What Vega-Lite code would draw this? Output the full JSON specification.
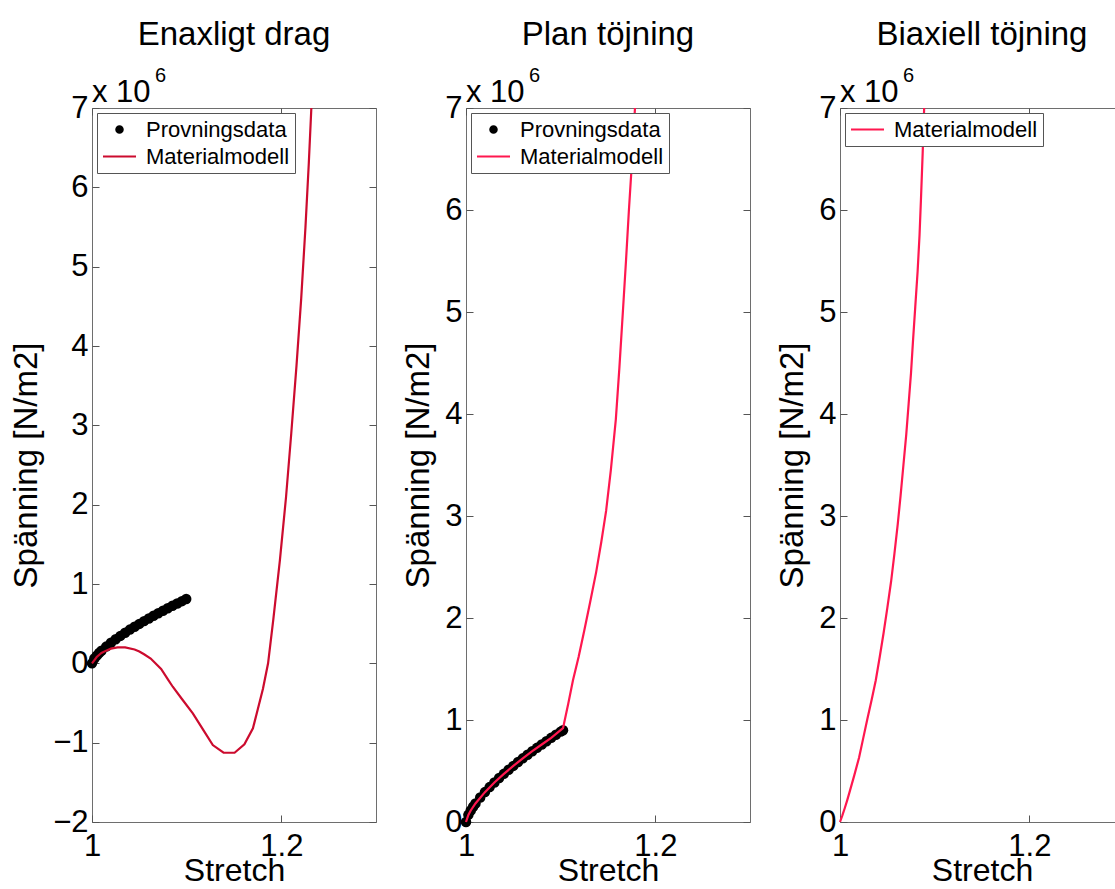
{
  "$schema": "https://vega.github.io/schema/vega-lite/v6.json",
  "padding": {"left": 10, "top": 18, "right": 0, "bottom": 0},
  "background": "white",
  "config": {
    "font": "Liberation Sans",
    "view": {"stroke": "#6e6e6e", "strokeWidth": 1},
    "title": {"fontSize": 33, "fontWeight": "normal", "color": "black", "anchor": "middle", "baseline": "bottom", "offset": 14},
    "axis": {"labelFont": "Liberation Sans", "titleFont": "Liberation Sans", "labelFontSize": 31, "titleFontSize": 33, "titleFontWeight": "normal", "labelColor": "black", "titleColor": "black", "tickColor": "#555", "tickSize": -7, "domain": false, "grid": false, "labelFlush": false, "labelOverlap": false},
    "axisBottom": {"titleFontSize": 32},
    "legend": {"labelFont": "Liberation Sans", "labelFontSize": 22, "labelColor": "black", "orient": "top-left", "offset": 5, "padding": 5, "strokeColor": "#555", "fillColor": "white", "symbolSize": 400, "symbolOffset": 6, "labelOffset": 15, "rowPadding": 4, "symbolStrokeWidth": 2.2}
  },
  "datasets": {
    "p1_data": [
      {"stretch": 1.0, "spanning": 0.0, "serie": "Provningsdata"},
      {"stretch": 1.0025, "spanning": 0.06, "serie": "Provningsdata"},
      {"stretch": 1.005, "spanning": 0.097, "serie": "Provningsdata"},
      {"stretch": 1.0075, "spanning": 0.13, "serie": "Provningsdata"},
      {"stretch": 1.01, "spanning": 0.159, "serie": "Provningsdata"},
      {"stretch": 1.015, "spanning": 0.211, "serie": "Provningsdata"},
      {"stretch": 1.02, "spanning": 0.259, "serie": "Provningsdata"},
      {"stretch": 1.025, "spanning": 0.304, "serie": "Provningsdata"},
      {"stretch": 1.03, "spanning": 0.346, "serie": "Provningsdata"},
      {"stretch": 1.035, "spanning": 0.386, "serie": "Provningsdata"},
      {"stretch": 1.04, "spanning": 0.425, "serie": "Provningsdata"},
      {"stretch": 1.045, "spanning": 0.461, "serie": "Provningsdata"},
      {"stretch": 1.05, "spanning": 0.497, "serie": "Provningsdata"},
      {"stretch": 1.055, "spanning": 0.532, "serie": "Provningsdata"},
      {"stretch": 1.06, "spanning": 0.566, "serie": "Provningsdata"},
      {"stretch": 1.065, "spanning": 0.599, "serie": "Provningsdata"},
      {"stretch": 1.07, "spanning": 0.631, "serie": "Provningsdata"},
      {"stretch": 1.075, "spanning": 0.663, "serie": "Provningsdata"},
      {"stretch": 1.08, "spanning": 0.694, "serie": "Provningsdata"},
      {"stretch": 1.085, "spanning": 0.725, "serie": "Provningsdata"},
      {"stretch": 1.09, "spanning": 0.754, "serie": "Provningsdata"},
      {"stretch": 1.095, "spanning": 0.784, "serie": "Provningsdata"},
      {"stretch": 1.0995, "spanning": 0.81, "serie": "Provningsdata"}
    ],
    "p1_model": [
      {"stretch": 1.0, "spanning": 0.0, "serie": "Materialmodell"},
      {"stretch": 1.005, "spanning": 0.08, "serie": "Materialmodell"},
      {"stretch": 1.01, "spanning": 0.13, "serie": "Materialmodell"},
      {"stretch": 1.015, "spanning": 0.16, "serie": "Materialmodell"},
      {"stretch": 1.02, "spanning": 0.185, "serie": "Materialmodell"},
      {"stretch": 1.027, "spanning": 0.2, "serie": "Materialmodell"},
      {"stretch": 1.035, "spanning": 0.2, "serie": "Materialmodell"},
      {"stretch": 1.045, "spanning": 0.175, "serie": "Materialmodell"},
      {"stretch": 1.05, "spanning": 0.15, "serie": "Materialmodell"},
      {"stretch": 1.055, "spanning": 0.115, "serie": "Materialmodell"},
      {"stretch": 1.062, "spanning": 0.06, "serie": "Materialmodell"},
      {"stretch": 1.073, "spanning": -0.07, "serie": "Materialmodell"},
      {"stretch": 1.08, "spanning": -0.2, "serie": "Materialmodell"},
      {"stretch": 1.0853, "spanning": -0.295, "serie": "Materialmodell"},
      {"stretch": 1.095, "spanning": -0.45, "serie": "Materialmodell"},
      {"stretch": 1.1065, "spanning": -0.63, "serie": "Materialmodell"},
      {"stretch": 1.117, "spanning": -0.83, "serie": "Materialmodell"},
      {"stretch": 1.1276, "spanning": -1.03, "serie": "Materialmodell"},
      {"stretch": 1.139, "spanning": -1.127, "serie": "Materialmodell"},
      {"stretch": 1.1506, "spanning": -1.127, "serie": "Materialmodell"},
      {"stretch": 1.161, "spanning": -1.02, "serie": "Materialmodell"},
      {"stretch": 1.17, "spanning": -0.82, "serie": "Materialmodell"},
      {"stretch": 1.1806, "spanning": -0.32, "serie": "Materialmodell"},
      {"stretch": 1.186, "spanning": 0.0, "serie": "Materialmodell"},
      {"stretch": 1.1915, "spanning": 0.55, "serie": "Materialmodell"},
      {"stretch": 1.1985, "spanning": 1.3, "serie": "Materialmodell"},
      {"stretch": 1.205, "spanning": 2.1, "serie": "Materialmodell"},
      {"stretch": 1.2105, "spanning": 2.9, "serie": "Materialmodell"},
      {"stretch": 1.216, "spanning": 3.75, "serie": "Materialmodell"},
      {"stretch": 1.221, "spanning": 4.6, "serie": "Materialmodell"},
      {"stretch": 1.2255, "spanning": 5.5, "serie": "Materialmodell"},
      {"stretch": 1.229, "spanning": 6.3, "serie": "Materialmodell"},
      {"stretch": 1.2317, "spanning": 7.0, "serie": "Materialmodell"}
    ],
    "p2_data": [
      {"stretch": 1.0, "spanning": 0.0, "serie": "Provningsdata"},
      {"stretch": 1.0025, "spanning": 0.07, "serie": "Provningsdata"},
      {"stretch": 1.005, "spanning": 0.113, "serie": "Provningsdata"},
      {"stretch": 1.0075, "spanning": 0.15, "serie": "Provningsdata"},
      {"stretch": 1.01, "spanning": 0.182, "serie": "Provningsdata"},
      {"stretch": 1.015, "spanning": 0.241, "serie": "Provningsdata"},
      {"stretch": 1.02, "spanning": 0.293, "serie": "Provningsdata"},
      {"stretch": 1.025, "spanning": 0.342, "serie": "Provningsdata"},
      {"stretch": 1.03, "spanning": 0.388, "serie": "Provningsdata"},
      {"stretch": 1.035, "spanning": 0.431, "serie": "Provningsdata"},
      {"stretch": 1.04, "spanning": 0.472, "serie": "Provningsdata"},
      {"stretch": 1.045, "spanning": 0.512, "serie": "Provningsdata"},
      {"stretch": 1.05, "spanning": 0.55, "serie": "Provningsdata"},
      {"stretch": 1.055, "spanning": 0.588, "serie": "Provningsdata"},
      {"stretch": 1.06, "spanning": 0.624, "serie": "Provningsdata"},
      {"stretch": 1.065, "spanning": 0.659, "serie": "Provningsdata"},
      {"stretch": 1.07, "spanning": 0.694, "serie": "Provningsdata"},
      {"stretch": 1.075, "spanning": 0.727, "serie": "Provningsdata"},
      {"stretch": 1.08, "spanning": 0.76, "serie": "Provningsdata"},
      {"stretch": 1.085, "spanning": 0.792, "serie": "Provningsdata"},
      {"stretch": 1.09, "spanning": 0.825, "serie": "Provningsdata"},
      {"stretch": 1.095, "spanning": 0.856, "serie": "Provningsdata"},
      {"stretch": 1.1, "spanning": 0.886, "serie": "Provningsdata"},
      {"stretch": 1.1025, "spanning": 0.9, "serie": "Provningsdata"}
    ],
    "p2_model": [
      {"stretch": 1.0, "spanning": 0.0, "serie": "Materialmodell"},
      {"stretch": 1.0025, "spanning": 0.07, "serie": "Materialmodell"},
      {"stretch": 1.005, "spanning": 0.113, "serie": "Materialmodell"},
      {"stretch": 1.01, "spanning": 0.182, "serie": "Materialmodell"},
      {"stretch": 1.02, "spanning": 0.293, "serie": "Materialmodell"},
      {"stretch": 1.03, "spanning": 0.388, "serie": "Materialmodell"},
      {"stretch": 1.04, "spanning": 0.472, "serie": "Materialmodell"},
      {"stretch": 1.05, "spanning": 0.55, "serie": "Materialmodell"},
      {"stretch": 1.06, "spanning": 0.624, "serie": "Materialmodell"},
      {"stretch": 1.07, "spanning": 0.694, "serie": "Materialmodell"},
      {"stretch": 1.08, "spanning": 0.76, "serie": "Materialmodell"},
      {"stretch": 1.09, "spanning": 0.825, "serie": "Materialmodell"},
      {"stretch": 1.1025, "spanning": 0.92, "serie": "Materialmodell"},
      {"stretch": 1.108, "spanning": 1.16, "serie": "Materialmodell"},
      {"stretch": 1.113, "spanning": 1.39, "serie": "Materialmodell"},
      {"stretch": 1.119, "spanning": 1.62, "serie": "Materialmodell"},
      {"stretch": 1.125, "spanning": 1.88, "serie": "Materialmodell"},
      {"stretch": 1.131, "spanning": 2.15, "serie": "Materialmodell"},
      {"stretch": 1.1375, "spanning": 2.45, "serie": "Materialmodell"},
      {"stretch": 1.143, "spanning": 2.75, "serie": "Materialmodell"},
      {"stretch": 1.148, "spanning": 3.05, "serie": "Materialmodell"},
      {"stretch": 1.153, "spanning": 3.45, "serie": "Materialmodell"},
      {"stretch": 1.1583, "spanning": 3.95, "serie": "Materialmodell"},
      {"stretch": 1.162, "spanning": 4.45, "serie": "Materialmodell"},
      {"stretch": 1.1657, "spanning": 5.0, "serie": "Materialmodell"},
      {"stretch": 1.169, "spanning": 5.5, "serie": "Materialmodell"},
      {"stretch": 1.1721, "spanning": 6.0, "serie": "Materialmodell"},
      {"stretch": 1.1755, "spanning": 6.5, "serie": "Materialmodell"},
      {"stretch": 1.1785, "spanning": 7.0, "serie": "Materialmodell"}
    ],
    "p3_model": [
      {"stretch": 1.0, "spanning": 0.0, "serie": "Materialmodell"},
      {"stretch": 1.0025, "spanning": 0.065, "serie": "Materialmodell"},
      {"stretch": 1.005, "spanning": 0.135, "serie": "Materialmodell"},
      {"stretch": 1.0075, "spanning": 0.21, "serie": "Materialmodell"},
      {"stretch": 1.01, "spanning": 0.29, "serie": "Materialmodell"},
      {"stretch": 1.015, "spanning": 0.455, "serie": "Materialmodell"},
      {"stretch": 1.0201, "spanning": 0.63, "serie": "Materialmodell"},
      {"stretch": 1.0245, "spanning": 0.82, "serie": "Materialmodell"},
      {"stretch": 1.0289, "spanning": 1.01, "serie": "Materialmodell"},
      {"stretch": 1.0335, "spanning": 1.2, "serie": "Materialmodell"},
      {"stretch": 1.0378, "spanning": 1.39, "serie": "Materialmodell"},
      {"stretch": 1.042, "spanning": 1.62, "serie": "Materialmodell"},
      {"stretch": 1.046, "spanning": 1.85, "serie": "Materialmodell"},
      {"stretch": 1.05, "spanning": 2.1, "serie": "Materialmodell"},
      {"stretch": 1.054, "spanning": 2.36, "serie": "Materialmodell"},
      {"stretch": 1.0575, "spanning": 2.63, "serie": "Materialmodell"},
      {"stretch": 1.061, "spanning": 2.92, "serie": "Materialmodell"},
      {"stretch": 1.064, "spanning": 3.2, "serie": "Materialmodell"},
      {"stretch": 1.067, "spanning": 3.5, "serie": "Materialmodell"},
      {"stretch": 1.07, "spanning": 3.8, "serie": "Materialmodell"},
      {"stretch": 1.0725, "spanning": 4.1, "serie": "Materialmodell"},
      {"stretch": 1.075, "spanning": 4.4, "serie": "Materialmodell"},
      {"stretch": 1.077, "spanning": 4.7, "serie": "Materialmodell"},
      {"stretch": 1.0795, "spanning": 5.05, "serie": "Materialmodell"},
      {"stretch": 1.082, "spanning": 5.4, "serie": "Materialmodell"},
      {"stretch": 1.084, "spanning": 5.75, "serie": "Materialmodell"},
      {"stretch": 1.0855, "spanning": 6.1, "serie": "Materialmodell"},
      {"stretch": 1.0873, "spanning": 6.55, "serie": "Materialmodell"},
      {"stretch": 1.0889, "spanning": 7.0, "serie": "Materialmodell"}
    ],
    "exp_label": [
      {"stretch": 1.0, "spanning": 7.0, "base": "x 10", "exp": "6"}
    ]
  },
  "spacing": 90,
  "bounds": "flush",
  "resolve": {"scale": {"x": "independent", "y": "independent", "color": "independent"}, "legend": {"color": "independent"}},
  "hconcat": [
    {
      "width": 284, "height": 714,
      "title": {"text": "Enaxligt drag"},
      "layer": [
        {
          "data": {"name": "p1_data"},
          "mark": {"type": "point", "filled": true, "size": 110, "opacity": 1},
          "encoding": {
            "x": {"field": "stretch", "type": "quantitative", "scale": {"domain": [1, 1.3], "nice": false, "zero": false}, "axis": {"orient": "bottom", "values": [1, 1.2], "format": "~g", "title": "Stretch", "labelPadding": 16, "titlePadding": -6}},
            "y": {"field": "spanning", "type": "quantitative", "scale": {"domain": [-2, 7], "nice": false, "zero": false}, "axis": {"orient": "left", "values": [-2, -1, 0, 1, 2, 3, 4, 5, 6, 7], "format": "~g", "title": "Spänning [N/m2]", "labelPadding": 11, "titlePadding": 9}},
            "color": {"field": "serie", "type": "nominal", "scale": {"domain": ["Provningsdata", "Materialmodell"], "range": ["#000000", "#cc0b2e"]},
              "legend": {"title": null, "encode": {"symbols": {"update": {"shape": {"signal": "datum.value === 'Provningsdata' ? 'circle' : 'M-1.65,0H1.65'"}, "size": {"signal": "datum.value === 'Provningsdata' ? 40 : 400"}, "fill": {"signal": "datum.value === 'Provningsdata' ? '#000000' : 'transparent'"}, "stroke": {"signal": "datum.value === 'Provningsdata' ? 'transparent' : '#e8174f'"}, "strokeWidth": {"value": 2.2}, "opacity": {"value": 1}}}}}}
          }
        },
        {
          "data": {"name": "p1_model"},
          "mark": {"type": "line", "strokeWidth": 2.2},
          "encoding": {
            "x": {"field": "stretch", "type": "quantitative", "axis": {"orient": "top", "values": [1, 1.2], "labels": false, "title": null}},
            "y": {"field": "spanning", "type": "quantitative", "axis": {"orient": "right", "values": [-2, -1, 0, 1, 2, 3, 4, 5, 6, 7], "labels": false, "title": null}},
            "color": {"field": "serie", "type": "nominal",
              "legend": {"title": null, "encode": {"symbols": {"update": {"shape": {"signal": "datum.value === 'Provningsdata' ? 'circle' : 'M-1.65,0H1.65'"}, "size": {"signal": "datum.value === 'Provningsdata' ? 40 : 400"}, "fill": {"signal": "datum.value === 'Provningsdata' ? '#000000' : 'transparent'"}, "stroke": {"signal": "datum.value === 'Provningsdata' ? 'transparent' : '#e8174f'"}, "strokeWidth": {"value": 2.2}, "opacity": {"value": 1}}}}}}
          }
        },
        {
          "data": {"name": "exp_label"},
          "mark": {"type": "text", "align": "left", "baseline": "alphabetic", "fontSize": 31, "dy": -6, "color": "black"},
          "encoding": {"x": {"field": "stretch", "type": "quantitative", "axis": null}, "y": {"field": "spanning", "type": "quantitative", "axis": null}, "text": {"field": "base"}}
        },
        {
          "data": {"name": "exp_label"},
          "mark": {"type": "text", "align": "left", "baseline": "alphabetic", "fontSize": 20, "dx": 63, "dy": -26, "color": "black"},
          "encoding": {"x": {"field": "stretch", "type": "quantitative", "axis": null}, "y": {"field": "spanning", "type": "quantitative", "axis": null}, "text": {"field": "exp"}}
        }
      ],
      "resolve": {"axis": {"x": "independent", "y": "independent"}}
    },
    {
      "width": 284, "height": 714,
      "title": {"text": "Plan töjning"},
      "layer": [
        {
          "data": {"name": "p2_data"},
          "mark": {"type": "point", "filled": true, "size": 110, "opacity": 1},
          "encoding": {
            "x": {"field": "stretch", "type": "quantitative", "scale": {"domain": [1, 1.3], "nice": false, "zero": false}, "axis": {"orient": "bottom", "values": [1, 1.2], "format": "~g", "title": "Stretch", "labelPadding": 16, "titlePadding": -6}},
            "y": {"field": "spanning", "type": "quantitative", "scale": {"domain": [0, 7], "nice": false, "zero": false}, "axis": {"orient": "left", "values": [0, 1, 2, 3, 4, 5, 6, 7], "format": "~g", "title": "Spänning [N/m2]", "labelPadding": 11, "titlePadding": 9}},
            "color": {"field": "serie", "type": "nominal", "scale": {"domain": ["Provningsdata", "Materialmodell"], "range": ["#000000", "#ff174f"]},
              "legend": {"title": null, "encode": {"symbols": {"update": {"shape": {"signal": "datum.value === 'Provningsdata' ? 'circle' : 'M-1.65,0H1.65'"}, "size": {"signal": "datum.value === 'Provningsdata' ? 40 : 400"}, "fill": {"signal": "datum.value === 'Provningsdata' ? '#000000' : 'transparent'"}, "stroke": {"signal": "datum.value === 'Provningsdata' ? 'transparent' : '#ff174f'"}, "strokeWidth": {"value": 2.2}, "opacity": {"value": 1}}}}}}
          }
        },
        {
          "data": {"name": "p2_model"},
          "mark": {"type": "line", "strokeWidth": 2.2},
          "encoding": {
            "x": {"field": "stretch", "type": "quantitative", "axis": {"orient": "top", "values": [1, 1.2], "labels": false, "title": null}},
            "y": {"field": "spanning", "type": "quantitative", "axis": {"orient": "right", "values": [0, 1, 2, 3, 4, 5, 6, 7], "labels": false, "title": null}},
            "color": {"field": "serie", "type": "nominal",
              "legend": {"title": null, "encode": {"symbols": {"update": {"shape": {"signal": "datum.value === 'Provningsdata' ? 'circle' : 'M-1.65,0H1.65'"}, "size": {"signal": "datum.value === 'Provningsdata' ? 40 : 400"}, "fill": {"signal": "datum.value === 'Provningsdata' ? '#000000' : 'transparent'"}, "stroke": {"signal": "datum.value === 'Provningsdata' ? 'transparent' : '#ff174f'"}, "strokeWidth": {"value": 2.2}, "opacity": {"value": 1}}}}}}
          }
        },
        {
          "data": {"name": "exp_label"},
          "mark": {"type": "text", "align": "left", "baseline": "alphabetic", "fontSize": 31, "dy": -6, "color": "black"},
          "encoding": {"x": {"field": "stretch", "type": "quantitative", "axis": null}, "y": {"field": "spanning", "type": "quantitative", "axis": null}, "text": {"field": "base"}}
        },
        {
          "data": {"name": "exp_label"},
          "mark": {"type": "text", "align": "left", "baseline": "alphabetic", "fontSize": 20, "dx": 63, "dy": -26, "color": "black"},
          "encoding": {"x": {"field": "stretch", "type": "quantitative", "axis": null}, "y": {"field": "spanning", "type": "quantitative", "axis": null}, "text": {"field": "exp"}}
        }
      ],
      "resolve": {"axis": {"x": "independent", "y": "independent"}}
    },
    {
      "width": 284, "height": 714,
      "title": {"text": "Biaxiell töjning"},
      "layer": [
        {
          "data": {"name": "p3_model"},
          "mark": {"type": "line", "strokeWidth": 2.2},
          "encoding": {
            "x": {"field": "stretch", "type": "quantitative", "scale": {"domain": [1, 1.3], "nice": false, "zero": false}, "axis": {"orient": "bottom", "values": [1, 1.2], "format": "~g", "title": "Stretch", "labelPadding": 16, "titlePadding": -6}},
            "y": {"field": "spanning", "type": "quantitative", "scale": {"domain": [0, 7], "nice": false, "zero": false}, "axis": {"orient": "left", "values": [0, 1, 2, 3, 4, 5, 6, 7], "format": "~g", "title": "Spänning [N/m2]", "labelPadding": 11, "titlePadding": 9}},
            "color": {"field": "serie", "type": "nominal", "scale": {"domain": ["Materialmodell"], "range": ["#ff174f"]},
              "legend": {"title": null, "encode": {"symbols": {"update": {"shape": {"value": "M-1.65,0H1.65"}, "size": {"value": 400}, "fill": {"value": "transparent"}, "stroke": {"value": "#ff174f"}, "strokeWidth": {"value": 2.2}, "opacity": {"value": 1}}}}}}
          }
        },
        {
          "data": {"name": "p3_model"},
          "mark": {"type": "line", "strokeWidth": 0, "opacity": 0},
          "encoding": {
            "x": {"field": "stretch", "type": "quantitative", "axis": {"orient": "top", "values": [1, 1.2], "labels": false, "title": null}},
            "y": {"field": "spanning", "type": "quantitative", "axis": {"orient": "right", "values": [0, 1, 2, 3, 4, 5, 6, 7], "labels": false, "title": null}}
          }
        },
        {
          "data": {"name": "exp_label"},
          "mark": {"type": "text", "align": "left", "baseline": "alphabetic", "fontSize": 31, "dy": -6, "color": "black"},
          "encoding": {"x": {"field": "stretch", "type": "quantitative", "axis": null}, "y": {"field": "spanning", "type": "quantitative", "axis": null}, "text": {"field": "base"}}
        },
        {
          "data": {"name": "exp_label"},
          "mark": {"type": "text", "align": "left", "baseline": "alphabetic", "fontSize": 20, "dx": 63, "dy": -26, "color": "black"},
          "encoding": {"x": {"field": "stretch", "type": "quantitative", "axis": null}, "y": {"field": "spanning", "type": "quantitative", "axis": null}, "text": {"field": "exp"}}
        }
      ],
      "resolve": {"axis": {"x": "independent", "y": "independent"}}
    }
  ]
}
